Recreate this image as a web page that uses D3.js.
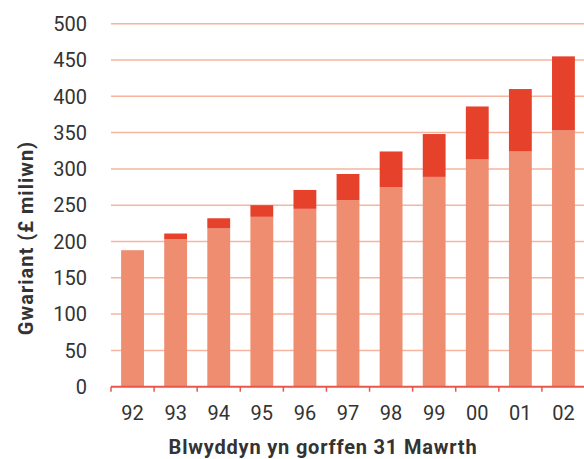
<!DOCTYPE html>
<html>
<head>
<meta charset="utf-8">
<script src="https://cdn.jsdelivr.net/npm/d3@7"></script>
<style>
  body { margin: 0; background: #fff; }
  svg { display: block; font-family: Roboto, "Liberation Sans", sans-serif; }
</style>
</head>
<body>
<div id="chart"></div>
<script>
// years ending 31 March
var years = ["92", "93", "94", "95", "96", "97", "98", "99", "00", "01", "02"];
// lower (light) part of each bar, £ million
var baseSpend = [188, 203, 218, 234, 245, 257, 275, 289, 313, 324, 353];
// upper (dark) part stacked on top
var extraSpend = [0, 8, 14, 16, 26, 36, 49, 59, 73, 86, 102];
var yTicks = [0, 50, 100, 150, 200, 250, 300, 350, 400, 450, 500];

var width = 584, height = 459;
var padding = {top: 23.7, right: -1, bottom: 72.3, left: 111};

var cols = {base: "#EE8D6F", extra: "#E5412B", grid: "#F5B5A0", axis: "#E8574A", text: "#333333"};

var rows = years.map(function(d, i){
	return {year: d, base: baseSpend[i], extra: extraSpend[i]};
});

var svg = d3.select("#chart").append("svg")
	.attr("width", width).attr("height", height);

var x = d3.scaleBand().domain(years)
	.range([padding.left, width - padding.right])
	.paddingInner(0.47).paddingOuter(0.235);

var y = d3.scaleLinear().domain([0, 500])
	.range([height - padding.bottom, padding.top]);

//grid lines
svg.append("g").selectAll("line")
	.data(yTicks.filter(function(d){ return d > 0; }))
	.enter().append("line")
	.attr("x1", padding.left).attr("x2", width)
	.attr("y1", function(d){ return y(d); })
	.attr("y2", function(d){ return y(d); })
	.attr("stroke", cols.grid)
	.attr("stroke-width", 1.5);

//y tick labels
svg.append("g").selectAll("text")
	.data(yTicks)
	.enter().append("text")
	.attr("x", 87)
	.attr("y", function(d){ return y(d); })
	.attr("dy", "0.36em")
	.attr("text-anchor", "end")
	.style("font-size", "20px")
	.style("fill", cols.text)
	.text(function(d){ return d; });

//stacked bars
var stack = d3.stack().keys(["base", "extra"]);
var series = stack(rows);

svg.append("g").selectAll("g")
	.data(series)
	.enter().append("g")
	.attr("fill", function(d){ return cols[d.key]; })
	.selectAll("rect")
	.data(function(d){ return d; })
	.enter().append("rect")
	.attr("x", function(d){ return x(d.data.year); })
	.attr("width", x.bandwidth())
	.attr("y", function(d){ return y(d[1]); })
	.attr("height", function(d){ return y(d[0]) - y(d[1]); });

//x axis line + ticks at band edges
var step = x.step();
var edges = years.map(function(d){ return x(d) - (step - x.bandwidth()) / 2; });
edges.push(edges[edges.length - 1] + step);

var axisG = svg.append("g");
axisG.append("line")
	.attr("x1", padding.left).attr("x2", width)
	.attr("y1", y(0)).attr("y2", y(0))
	.attr("stroke", cols.axis).attr("stroke-width", 2);
axisG.selectAll("line.tick")
	.data(edges)
	.enter().append("line").classed("tick", true)
	.attr("x1", function(d){ return d; }).attr("x2", function(d){ return d; })
	.attr("y1", y(0)).attr("y2", y(0) + 5)
	.attr("stroke", cols.axis).attr("stroke-width", 1.5);

//x tick labels
svg.append("g").selectAll("text")
	.data(years)
	.enter().append("text")
	.attr("x", function(d){ return x(d) + x.bandwidth() / 2; })
	.attr("y", 420)
	.attr("text-anchor", "middle")
	.style("font-size", "20px")
	.style("fill", cols.text)
	.text(function(d){ return d; });

//axis titles
svg.append("text")
	.attr("x", 323).attr("y", 454)
	.attr("text-anchor", "middle")
	.style("font-size", "20px").style("font-weight", "bold")
	.style("letter-spacing", "0.8px")
	.style("fill", cols.text)
	.text("Blwyddyn yn gorffen 31 Mawrth");

svg.append("text")
	.attr("transform", "translate(33,238) rotate(-90)")
	.attr("text-anchor", "middle")
	.style("font-size", "20px").style("font-weight", "bold")
	.style("letter-spacing", "1px")
	.style("fill", cols.text)
	.text("Gwariant (£ miliwn)");
</script>
</body>
</html>
